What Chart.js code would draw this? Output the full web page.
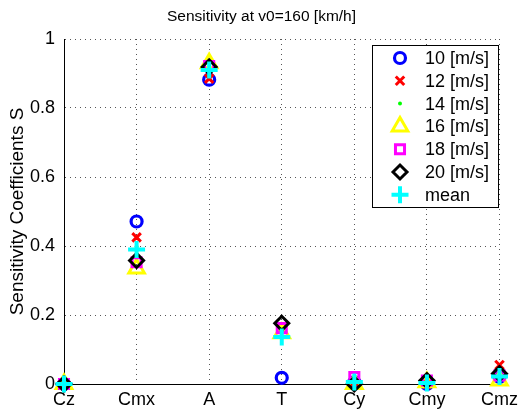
<!DOCTYPE html>
<html>
<head>
<meta charset="utf-8">
<script src="https://cdn.jsdelivr.net/npm/chart.js@4/dist/chart.umd.min.js"></script>
<style>
  html, body { margin: 0; padding: 0; background: #fff; }
  #wrap { width: 523px; height: 410px; position: relative; }
</style>
</head>
<body>
<div id="wrap"><canvas id="c" width="523" height="410"></canvas></div>
<script>
const chartTitle = 'Sensitivity at v0=160 [km/h]';
const categories = ['Cz', 'Cmx', 'A', 'T', 'Cy', 'Cmy', 'Cmz'];
const seriesLabels = ['10 [m/s]', '12 [m/s]', '14 [m/s]', '16 [m/s]', '18 [m/s]', '20 [m/s]', 'mean'];
const s10 = [0, 0.471, 0.882, 0.018, 0.005, 0.000, 0.020];
const s12 = [0, 0.425, 0.885, 0.160, 0.005, 0.000, 0.055];
const s14 = [0, 0.398, 0.900, 0.160, 0.005, 0.000, 0.030];
const s16 = [0, 0.335, 0.930, 0.147, 0.000, 0.005, 0.010];
const s18 = [0, 0.353, 0.922, 0.162, 0.020, 0.010, 0.025];
const s20 = [0, 0.358, 0.919, 0.176, 0.000, 0.010, 0.030];
const sMean = [0, 0.390, 0.910, 0.136, 0.006, 0.003, 0.022];
const yTicks = [0, 0.2, 0.4, 0.6, 0.8, 1];
const yTickLabels = ['0', '0.2', '0.4', '0.6', '0.8', '1'];

const styles = [
  { pointStyle: 'circle',   radius: 5.5, borderWidth: 3.2, color: '#0000ff', fill: 'rgba(0,0,0,0)' },
  { pointStyle: 'crossRot', radius: 6,   borderWidth: 3,   color: '#ff0000', fill: 'rgba(0,0,0,0)' },
  { pointStyle: 'circle',   radius: 2,   borderWidth: 0,   color: '#00ff00', fill: '#00ff00' },
  { pointStyle: 'triangle', radius: 9,   borderWidth: 3,   color: '#ffff00', fill: 'rgba(0,0,0,0)' },
  { pointStyle: 'rect',     radius: 6.4, borderWidth: 3,   color: '#ff00ff', fill: 'rgba(0,0,0,0)' },
  { pointStyle: 'rectRot',  radius: 7,   borderWidth: 3,   color: '#000000', fill: 'rgba(0,0,0,0)' },
  { pointStyle: 'cross',    radius: 8.5, borderWidth: 4,   color: '#00ffff', fill: 'rgba(0,0,0,0)' }
];
const allSeries = [s10, s12, s14, s16, s18, s20, sMean];

const datasets = allSeries.map((d, i) => ({
  label: seriesLabels[i],
  data: d,
  showLine: false,
  clip: false,
  order: allSeries.length - 1 - i,
  pointStyle: styles[i].pointStyle,
  pointRadius: styles[i].radius,
  pointHoverRadius: styles[i].radius,
  pointBorderWidth: styles[i].borderWidth,
  pointBorderColor: styles[i].color,
  pointBackgroundColor: styles[i].fill,
  borderColor: styles[i].color,
  backgroundColor: styles[i].fill
}));

const FONT = '"Liberation Sans", Arial, Helvetica, sans-serif';

const boxLegend = {
  id: 'boxLegend',
  afterDraw(chart) {
    const ctx = chart.ctx;
    ctx.save();
    // title, centred on the whole figure
    ctx.fillStyle = '#000';
    ctx.font = '15.5px ' + FONT;
    ctx.textAlign = 'center';
    ctx.textBaseline = 'alphabetic';
    ctx.fillText(chartTitle, chart.width / 2, 21);

    const x0 = 372, y0 = 45, w = 126, h = 162;
    ctx.fillStyle = '#ffffff';
    ctx.fillRect(x0, y0, w, h);
    ctx.strokeStyle = '#000000';
    ctx.lineWidth = 1;
    ctx.strokeRect(x0 + 0.5, y0 + 0.5, w, h);
    const rowH = 22.8;
    chart.data.datasets.forEach((ds, i) => {
      const cy = 58 + i * rowH;
      const st = styles[i];
      ctx.save();
      ctx.fillStyle = st.fill;
      ctx.strokeStyle = st.color;
      ctx.lineWidth = st.borderWidth;
      Chart.helpers.drawPoint(ctx, {
        pointStyle: st.pointStyle, radius: st.radius, rotation: 0, borderWidth: st.borderWidth
      }, 400, cy);
      ctx.restore();
      ctx.fillStyle = '#000';
      ctx.font = '18px ' + FONT;
      ctx.textBaseline = 'middle';
      ctx.textAlign = 'left';
      ctx.fillText(ds.label, 425, cy + 1);
    });
    ctx.restore();
  }
};

new Chart(document.getElementById('c'), {
  type: 'line',
  data: { labels: categories, datasets: datasets },
  options: {
    responsive: false,
    animation: false,
    devicePixelRatio: 1,
    layout: { padding: { left: 0, right: 20, top: 39, bottom: 0 } },
    plugins: {
      legend: { display: false },
      tooltip: { enabled: false },
      title: { display: false }
    },
    scales: {
      x: {
        type: 'category',
        offset: false,
        grid: { color: '#555', lineWidth: 1, drawTicks: false, offset: false },
        border: { display: true, color: '#000', width: 1, dash: [1, 4] },
        ticks: { color: '#000', font: { family: FONT, size: 18 }, padding: 5, maxRotation: 0, autoSkip: false },
        afterFit(scale) { scale.height = 26; }
      },
      y: {
        min: 0, max: 1,
        afterBuildTicks(scale) { scale.ticks = yTicks.map(v => ({ value: v })); },
        grid: { color: '#555', lineWidth: 1, drawTicks: false },
        border: { display: true, color: '#000', width: 1, dash: [1, 4] },
        ticks: {
          color: '#000', font: { family: FONT, size: 18 }, padding: 9,
          callback(value, index) { return yTickLabels[index]; }
        },
        title: {
          display: true,
          text: 'Sensitivity Coefficients S',
          color: '#000',
          font: { family: FONT, size: 19, lineHeight: 1.2 },
          padding: { top: 6, bottom: 0 }
        },
        afterFit(scale) { scale.width = 64; }
      }
    }
  },
  plugins: [boxLegend]
});
</script>
</body>
</html>
